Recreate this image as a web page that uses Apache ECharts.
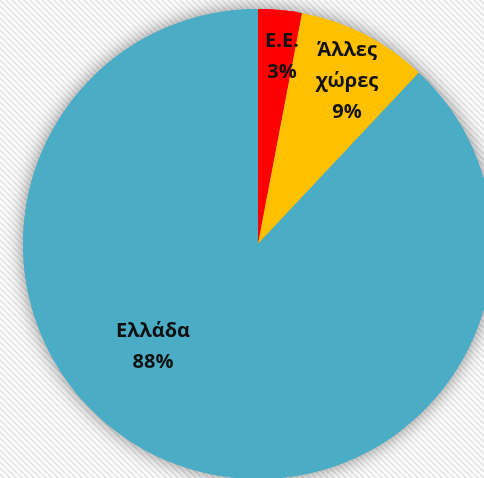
<!DOCTYPE html>
<html>
<head>
<meta charset="utf-8">
<style>
  html, body { margin: 0; padding: 0; background: #ffffff; }
  #chart { width: 484px; height: 478px; }
</style>
<script src="https://cdn.jsdelivr.net/npm/echarts@6/dist/echarts.min.js"></script>
</head>
<body>
<div id="chart"></div>
<script>
// Shares by origin (percent)
const categories = ['Ε.Ε.', 'Άλλες\nχώρες', 'Ελλάδα'];
const shares = [3, 9, 88];
const colors = ['#ff0000', '#ffc000', '#4bacc6'];

// Label block centres
const labelX = [282, 347, 153];
const labelY = [57, 81, 347];

// Diagonal pin-stripe backdrop
function stripePattern() {
  const size = 6;
  const c = document.createElement('canvas');
  c.width = size; c.height = size;
  const g = c.getContext('2d');
  g.fillStyle = '#fcfcfc';
  g.fillRect(0, 0, size, size);
  g.strokeStyle = '#e4e4e4';
  g.lineWidth = 1.6;
  for (let k = -1; k <= 1; k++) {
    g.beginPath();
    g.moveTo(k * size, 0);
    g.lineTo(k * size + size, size);
    g.stroke();
  }
  return c;
}

const data = categories.map((name, i) => ({
  name: name,
  value: shares[i],
  itemStyle: { color: colors[i] }
}));

const chart = echarts.init(document.getElementById('chart'), null, { renderer: 'canvas' });
chart.setOption({
  backgroundColor: { image: stripePattern(), repeat: 'repeat' },
  animation: false,
  series: [
    {
      // soft drop shadow underneath the pie
      type: 'pie',
      silent: true,
      center: [258, 244],
      radius: 235,
      startAngle: 90,
      clockwise: true,
      label: { show: false },
      labelLine: { show: false },
      itemStyle: {
        shadowBlur: 18,
        shadowColor: 'rgba(0,0,0,0.45)',
        shadowOffsetX: 0,
        shadowOffsetY: 0
      },
      data: data,
      z: 1
    },
    {
      type: 'pie',
      center: [258, 244],
      radius: 235,
      startAngle: 90,
      clockwise: true,
      itemStyle: { borderWidth: 0 },
      label: {
        show: true,
        position: 'inside',
        formatter: p => p.name + '\n' + p.value + '%',
        color: '#111111',
        fontFamily: 'Open Sans, sans-serif',
        fontWeight: 'bold',
        fontSize: 20,
        lineHeight: 31,
        align: 'center',
        verticalAlign: 'middle'
      },
      labelLine: { show: false },
      labelLayout: p => ({
        x: labelX[p.dataIndex],
        y: labelY[p.dataIndex],
        align: 'center',
        verticalAlign: 'middle'
      }),
      emphasis: { disabled: true },
      data: data,
      z: 2
    }
  ]
});
</script>
</body>
</html>
